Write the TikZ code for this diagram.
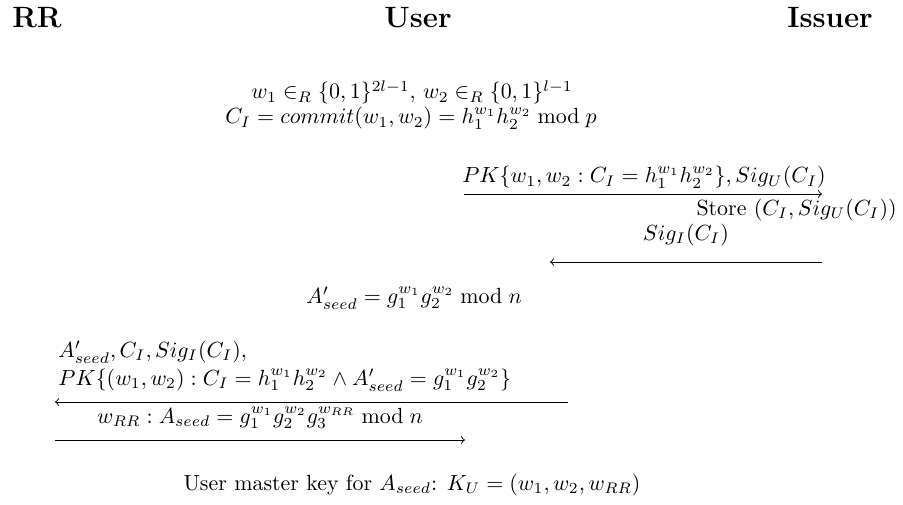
\documentclass[tikz,border=0pt]{standalone}
\usepackage{amsmath}
\usetikzlibrary{positioning}

\tikzset{
    party/.style={font=\fontsize{13.4}{16}\selectfont\bfseries, anchor=base},
    msg/.style={anchor=base, inner sep=0pt},
    flow/.style={->, line width=0.4pt}
}

\begin{document}
\begin{tikzpicture}[x=0.456pt, y=-0.456pt]
    \useasboundingbox (0,0) rectangle (903,504);

    % parties
    \node[party] (rr) at (37,28) {RR};
    \node[party] (user) at (418,28) {User};
    \node[party] (issuer) at (830,28) {Issuer};

    % user picks the secrets
    \node[msg] (pick) at (412,99) {$w_1 \in_R \{0,1\}^{2l-1},\, w_2 \in_R \{0,1\}^{l-1}$};
    \node[msg] (commit) at (411,124) {$C_I = commit(w_1,w_2) = h_1^{w_1}h_2^{w_2} \bmod p$};

    % user -> issuer
    \coordinate (a1s) at (464,194);
    \coordinate (a1e) at (822,194);
    \node[msg] (pk1) at (644,183) {$PK\{w_1,w_2 : C_I = h_1^{w_1}h_2^{w_2}\}, Sig_U(C_I)$};
    \draw[flow] (a1s) -- (a1e);
    \node[msg, anchor=base east] (store) at (897,215) {Store $(C_I, Sig_U(C_I))$};

    % issuer -> user
    \node[msg] (sigi) at (686,240) {$Sig_I(C_I)$};
    \coordinate (a2s) at (822,262);
    \coordinate (a2e) at (550,262);
    \draw[flow] (a2s) -- (a2e);

    \node[msg] (aseed) at (414,303) {$A'_{seed} = g_1^{w_1}g_2^{w_2} \bmod n$};

    % user -> RR
    \node[msg, anchor=base west] (req1) at (58,357) {$A'_{seed}, C_I, Sig_I(C_I),$};
    \node[msg, anchor=base west] (req2) at (58,385) {$PK\{(w_1,w_2) : C_I = h_1^{w_1}h_2^{w_2} \wedge A'_{seed} = g_1^{w_1}g_2^{w_2}\}$};
    \coordinate (a3s) at (568,402);
    \coordinate (a3e) at (55,402);
    \draw[flow] (a3s) -- (a3e);

    % RR -> user
    \node[msg] (wrr) at (260,423) {$w_{RR} : A_{seed} = g_1^{w_1}g_2^{w_2}g_3^{w_{RR}} \bmod n$};
    \coordinate (a4s) at (55,440);
    \coordinate (a4e) at (465,440);
    \draw[flow] (a4s) -- (a4e);

    \node[msg] (mkey) at (412,490) {User master key for $A_{seed}$: $K_U = (w_1,w_2,w_{RR})$};
\end{tikzpicture}
\end{document}
